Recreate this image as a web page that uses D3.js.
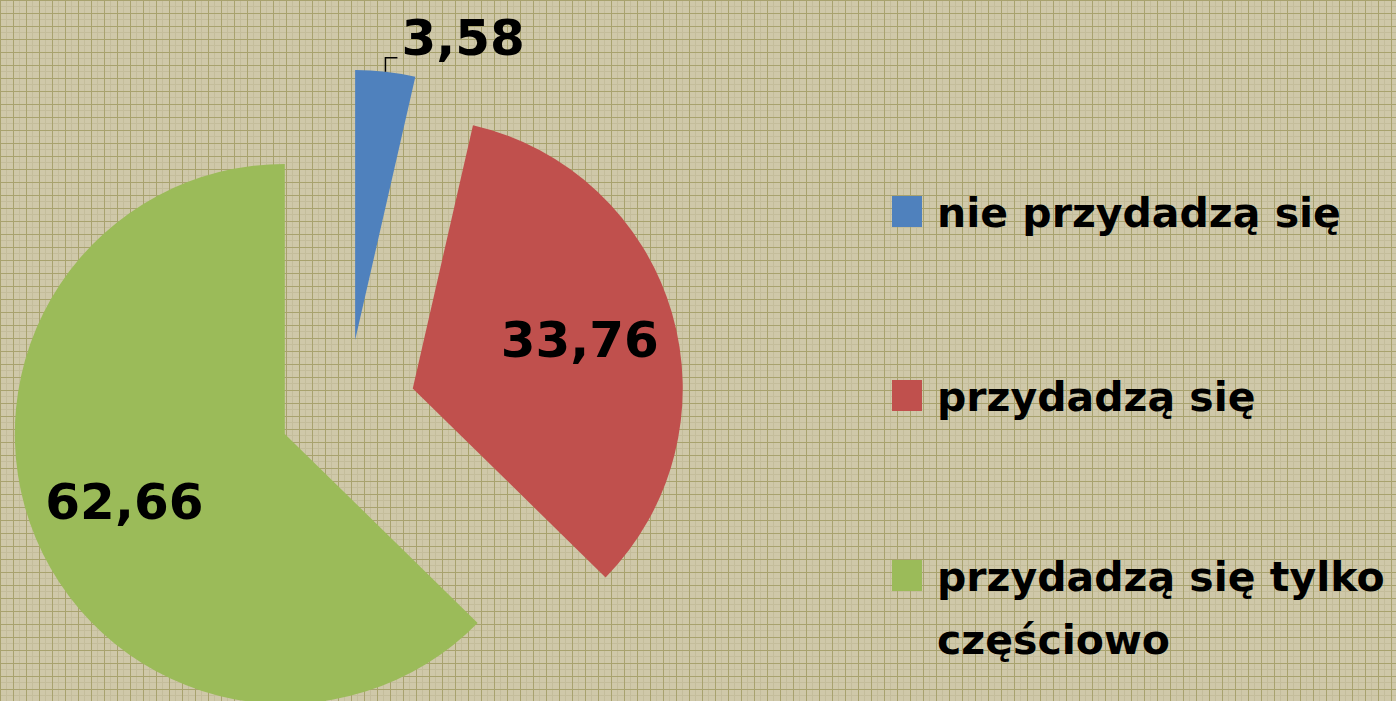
<!DOCTYPE html>
<html lang="pl">
<head>
<meta charset="UTF-8">
<title>Pie chart</title>
<script src="https://d3js.org/d3.v7.min.js"></script>
<style>
    body { margin: 0; overflow: hidden; }
    svg { display: block; font-family: "Comic Sans MS", "DejaVu Sans", sans-serif; font-weight: bold; }
</style>
</head>
<body>
<svg width="1396" height="701"></svg>
<script>
    const categories = ["nie przydadzą się", "przydadzą się", "przydadzą się tylko częściowo"];
    const values = [3.58, 33.76, 62.66];
    const legendLines = [["nie przydadzą się"], ["przydadzą się"], ["przydadzą się tylko", "częściowo"]];
    const colors = ["#4f81bd", "#c0504d", "#9bbb59"];

    const svg = d3.select("svg");
    const cx = 347.5, cy = 407.6, radius = 270, explode = 68;

    // tan grid-paper background
    const defs = svg.append("defs");
    const pat = defs.append("pattern")
        .attr("id", "bg").attr("width", 13).attr("height", 13)
        .attr("patternUnits", "userSpaceOnUse");
    pat.append("rect").attr("width", 13).attr("height", 13).attr("fill", "#cfc8a9");
    pat.append("rect").attr("x", 6).attr("width", 1).attr("height", 13).attr("fill", "#c4bd9b");
    pat.append("rect").attr("y", 6).attr("width", 13).attr("height", 1).attr("fill", "#c4bd9b");
    pat.append("rect").attr("width", 1).attr("height", 13).attr("fill", "#a8a26e");
    pat.append("rect").attr("width", 13).attr("height", 1).attr("fill", "#a8a26e");
    svg.append("rect").attr("width", 1396).attr("height", 701).attr("fill", "url(#bg)");

    const pie = d3.pie().sort(null).value(d => d);
    const arcs = pie(values);
    const arc = d3.arc().innerRadius(0).outerRadius(radius);

    const g = svg.append("g").attr("transform", `translate(${cx},${cy})`);

    const offset = d => {
        const a = (d.startAngle + d.endAngle) / 2;
        return [explode * Math.sin(a), -explode * Math.cos(a)];
    };

    g.selectAll("path")
        .data(arcs)
        .enter().append("path")
        .attr("d", arc)
        .attr("fill", (d, i) => colors[i])
        .attr("transform", d => `translate(${offset(d)})`);

    const fmt = v => v.toFixed(2).replace(".", ",");

    arcs.forEach((d, i) => {
        const [ox, oy] = offset(d);
        const a = (d.startAngle + d.endAngle) / 2;
        if (i === 0) {
            // small slice: leader line + label outside
            const px = ox + radius * Math.sin(a), py = oy - radius * Math.cos(a);
            g.append("path")
                .attr("d", `M${px},${py}V${py - 14}H${px + 12}`)
                .attr("fill", "none").attr("stroke", "#000").attr("stroke-width", 1.5);
            g.append("text")
                .attr("x", px + 16).attr("y", py - 17)
                .attr("font-size", 50)
                .text(fmt(values[i]));
        } else {
            const r = 174;
            g.append("text")
                .attr("x", ox + r * Math.sin(a)).attr("y", oy - r * Math.cos(a))
                .attr("dy", "0.35em")
                .attr("text-anchor", "middle")
                .attr("font-size", 50)
                .text(fmt(values[i]));
        }
    });

    // legend
    const legendY = [196, 380, 560];
    const legend = svg.append("g");
    categories.forEach((c, i) => {
        legend.append("rect")
            .attr("x", 892).attr("y", legendY[i])
            .attr("width", 30).attr("height", 31)
            .attr("fill", colors[i]);
        legendLines[i].forEach((line, j) => {
            legend.append("text")
                .attr("x", 937).attr("y", legendY[i] + 31 + j * 63)
                .attr("font-size", 41)
                .text(line);
        });
    });
</script>
</body>
</html>
